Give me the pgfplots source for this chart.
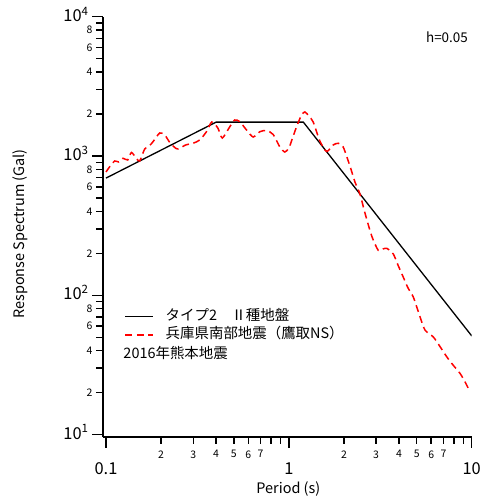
\documentclass[border=0pt]{standalone}
\usepackage{fontspec}
\setmainfont{Noto Sans CJK JP}
\usepackage{pgfplots}
\pgfplotsset{compat=1.18}
\definecolor{specred}{RGB}{255,0,0}

\newcommand{\bigf}{\fontsize{16.5}{19}\selectfont}
\newcommand{\smallf}{\fontsize{10.5}{12}\selectfont}
\newcommand{\legf}{\fontsize{14.5}{17}\selectfont}

\begin{document}
\begin{tikzpicture}
\begin{loglogaxis}[
  scale only axis,
  width=368.7bp, height=420.3bp,
  xmin=0.0963, xmax=10,
  ymin=9.61, ymax=10000,
  axis lines=left,
  axis line style={line width=1.8bp, -},
  tick align=outside,
  major tick length=11bp,
  minor tick length=7bp,
  tick style={line width=1.4bp, black},
  xtick={0.1,1,10},
  xticklabels={0.1,1,10},
  minor xtick={0.8,0.9,8,9},
  extra x ticks={0.2,0.3,0.4,0.5,0.6,0.7,2,3,4,5,6,7},
  extra x tick labels={2,3,4,5,6,7,2,3,4,5,6,7},
  extra x tick style={major tick length=7bp, xticklabel style={font=\smallf, yshift=8bp}},
  ytick={10,100,1000,10000},
  yticklabels={10\textsuperscript{1},10\textsuperscript{2},10\textsuperscript{3},10\textsuperscript{4}},
  minor ytick={30,50,70,90,300,500,700,900,3000,5000,7000,9000},
  extra y ticks={20,40,60,80,200,400,600,800,2000,4000,6000,8000},
  extra y tick labels={2,4,6,8,2,4,6,8,2,4,6,8},
  extra y tick style={major tick length=7bp, yticklabel style={font=\smallf, yshift=-2.5bp}},
  tick label style={font=\bigf},
  xticklabel style={yshift=-11bp},
  yticklabel style={yshift=2.5bp},
  xlabel={Period (s)},
  ylabel={Response Spectrum (Gal)},
  xlabel style={at={(rel axis cs:0.5026,-0.1244)}, anchor=center, font=\legf},
  ylabel style={at={(rel axis cs:-0.225,0.483)}, anchor=center, font=\legf},
  legend image code/.code={\draw[#1] (0bp,0bp) -- (28bp,0bp);},
  legend style={draw=none, fill=none, at={(rel axis cs:0.0583,0.307)}, anchor=north west,
    inner sep=0pt, row sep=1.3bp, column sep=11bp, font=\legf,
    nodes={inner sep=0.5bp, text height=12bp, text depth=4bp}},
  legend cell align=left,
]
\addplot[black, line width=1.3bp] coordinates {
  (0.1,694) (0.4,1750) (1.2,1750) (10,51.1)
};
\addlegendentry{タイプ2　Ⅱ種地盤}
\addplot[specred, line width=1.5bp, dash pattern=on 7bp off 4.5bp, smooth, tension=0.4] coordinates {
  (0.1,768) (0.1048,838) (0.1116,921) (0.1173,906) (0.1239,963) (0.1315,936)
  (0.1377,1060) (0.1467,960) (0.1529,921) (0.1628,1123) (0.1734,1190) (0.1808,1267)
  (0.1967,1463) (0.2096,1415) (0.2232,1250) (0.2377,1151) (0.2478,1123) (0.2730,1200)
  (0.2994,1234) (0.3257,1303) (0.3543,1494) (0.3789,1754) (0.4088,1589) (0.4325,1346)
  (0.4754,1623) (0.5062,1813) (0.5392,1763) (0.5867,1537) (0.6378,1369) (0.6939,1494)
  (0.7551,1525) (0.8205,1427) (0.8928,1160) (0.9508,1068) (1.0,1141) (1.0385,1303)
  (1.1019,1623) (1.1734,1970) (1.2236,2070) (1.2865,1938) (1.3584,1754) (1.4779,1281)
  (1.6083,1077) (1.7477,1200) (1.8613,1234) (1.9825,1160) (2.1577,848) (2.2975,651)
  (2.4467,534) (2.6062,390) (2.8363,267) (3.0828,210) (3.2691,215) (3.4385,217)
  (3.7237,198) (3.9502,165) (4.2228,135) (4.4803,113) (4.7906,97.2) (5.2124,70.2)
  (5.5513,56.3) (6.1660,50.2) (6.7087,42.8) (7.2977,36.2) (7.9012,31.6) (8.6297,27.5)
  (9.1907,23.9) (9.7880,20.3)
};
\addlegendentry{兵庫県南部地震（鷹取NS）}
\node[anchor=west, inner sep=0pt, font=\legf] at (rel axis cs:0.055,0.199) {2016年熊本地震};
\node[anchor=east, inner sep=0pt, font=\fontsize{13.5}{16}\selectfont] at (rel axis cs:0.99,0.9517) {h=0.05};
\coordinate (bbsw) at (rel axis cs:-0.2794,-0.1594);
\coordinate (bbne) at (rel axis cs:1.0225,1.0397);
\end{loglogaxis}
\pgfresetboundingbox
\path (bbsw) rectangle (bbne);
\end{tikzpicture}
\end{document}
